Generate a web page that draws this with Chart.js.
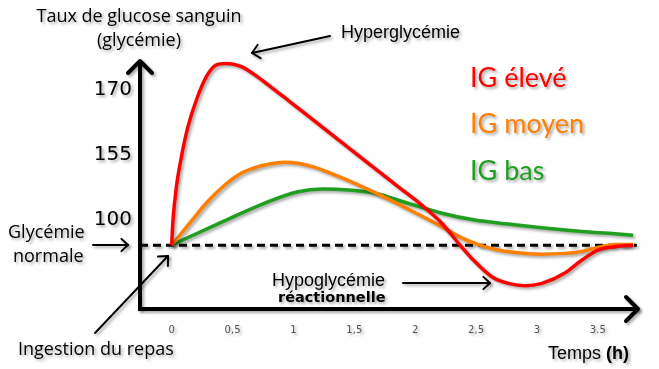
<!DOCTYPE html>
<html>
<head>
<meta charset="utf-8">
<script src="https://cdn.jsdelivr.net/npm/chart.js@4"></script>
<style>
  html, body { margin: 0; padding: 0; background: #fff; }
  #wrap { width: 659px; height: 369px; position: relative; }
</style>
</head>
<body>
<div id="wrap"><canvas id="glyChart"></canvas></div>
<script>
// time in hours, level on the schematic glycemia axis
const redTime = [0, 0.011, 0.039, 0.08, 0.134, 0.203, 0.285, 0.368, 0.45, 0.573, 0.683, 0.792, 0.902, 1.039, 1.313, 1.587, 1.859, 2.053, 2.218, 2.355, 2.49, 2.629, 2.766, 2.903, 3.04, 3.23, 3.37, 3.5, 3.64, 3.79];
const redLevel = [90, 102.8, 119.8, 135.1, 150.5, 164.1, 176, 182, 182.7, 181.1, 176.9, 171.8, 166.6, 159.9, 146.5, 133.1, 119.9, 110.5, 101.2, 91, 81.6, 73.9, 70.5, 69.3, 70.5, 75.8, 82.4, 87.5, 89.2, 90];

const orangeTime = [0, 0.148, 0.285, 0.42, 0.56, 0.66, 0.765, 0.93, 1.036, 1.17, 1.313, 1.5, 1.67, 1.94, 2.22, 2.355, 2.52, 2.66, 2.82, 3.04, 3.23, 3.37, 3.5, 3.64, 3.79];
const orangeLevel = [90, 101.2, 111.5, 119.8, 126.3, 129, 130.9, 132.3, 131.8, 129.8, 126.5, 121.7, 116.8, 108.5, 99.4, 94.5, 90.3, 87.8, 86.2, 85.4, 85.8, 86.8, 88.8, 90.3, 90.3];

const greenTime = [0, 0.148, 0.42, 0.765, 1.036, 1.24, 1.45, 1.67, 1.94, 2.22, 2.49, 2.765, 3.04, 3.37, 3.64, 3.79];
const greenLevel = [90, 94.3, 102, 111.5, 117.3, 118.7, 118.2, 116.5, 111.4, 106.3, 102.8, 100.8, 98.9, 97, 95.8, 95];

const normalTime = [-0.26, 3.82];
const normalLevel = [90, 90];

const xTickValues = [0, 0.5, 1, 1.5, 2, 2.5, 3, 3.5];
const xTickLabels = ['0', '0,5', '1', '1,5', '2', '2,5', '3', '3.5'];
const yTickValues = [102.8, 136, 169.2];
const yTickLabels = ['100', '155', '170'];

const seriesNames = ['IG élevé', 'IG moyen', 'IG bas'];
const seriesColors = ['#ff0000', '#ff7f00', '#1f9e1f'];

function toPoints(xs, ys) {
    return xs.map((x, i) => ({ x: x, y: ys[i] }));
}

function arrow(ctx, x1, y1, x2, y2, head, width) {
    const a = Math.atan2(y2 - y1, x2 - x1);
    ctx.lineWidth = width;
    ctx.lineCap = 'round';
    ctx.lineJoin = 'round';
    ctx.beginPath();
    ctx.moveTo(x1, y1);
    ctx.lineTo(x2, y2);
    ctx.stroke();
    ctx.beginPath();
    ctx.moveTo(x2 - head * Math.cos(a - 0.75), y2 - head * Math.sin(a - 0.75));
    ctx.lineTo(x2, y2);
    ctx.lineTo(x2 - head * Math.cos(a + 0.75), y2 - head * Math.sin(a + 0.75));
    ctx.stroke();
}

function setShadow(ctx) {
    ctx.shadowColor = 'rgba(0,0,0,0.35)';
    ctx.shadowBlur = 3;
    ctx.shadowOffsetX = 2;
    ctx.shadowOffsetY = 2;
}

const shadowPlugin = {
    id: 'shadow',
    beforeDraw(chart) {
        chart.ctx.save();
        setShadow(chart.ctx);
    },
    afterDraw(chart) {
        chart.ctx.restore();
    }
};

const notesPlugin = {
    id: 'notes',
    afterDraw(chart) {
        const ctx = chart.ctx;
        const area = chart.chartArea;
        ctx.save();
        setShadow(ctx);
        ctx.strokeStyle = '#000';
        ctx.fillStyle = '#000';

        // axis arrow heads
        ctx.lineWidth = 4;
        ctx.lineCap = 'round';
        ctx.lineJoin = 'round';
        ctx.beginPath();
        ctx.moveTo(area.left - 12, area.top + 11);
        ctx.lineTo(area.left, area.top - 1);
        ctx.lineTo(area.left + 12, area.top + 11);
        ctx.stroke();
        ctx.beginPath();
        ctx.moveTo(area.right - 12, area.bottom - 12);
        ctx.lineTo(area.right, area.bottom);
        ctx.lineTo(area.right - 12, area.bottom + 12);
        ctx.stroke();

        // annotation arrows
        arrow(ctx, 330, 36, 252, 53, 10, 2);
        arrow(ctx, 93, 245, 128, 245, 9, 2);
        arrow(ctx, 95, 333, 168, 256, 10, 2);
        arrow(ctx, 403, 283, 490, 283, 9, 2);

        ctx.textBaseline = 'middle';
        ctx.textAlign = 'center';
        ctx.font = '18px "Open Sans"';
        ctx.fillText('Taux de glucose sanguin', 139, 17);
        ctx.fillText('(glycémie)', 139, 41);

        ctx.textAlign = 'left';
        ctx.fillText('Glycémie', 8, 233);
        ctx.fillText('normale', 13, 257);
        ctx.fillText('Ingestion du repas', 18, 350);

        ctx.font = '18px "Liberation Sans"';
        ctx.fillText('Hyperglycémie', 341, 33);
        ctx.fillText('Hypoglycémie', 272, 281);
        ctx.font = 'bold 14.5px "DejaVu Sans"';
        ctx.fillText('réactionnelle', 278, 298);

        ctx.font = '18px "Liberation Sans"';
        ctx.fillText('Temps', 548, 354);
        const w = ctx.measureText('Temps ').width;
        ctx.font = 'bold 18px "Liberation Sans"';
        ctx.fillText('(h)', 548 + w, 354);

        ctx.font = '27px Lato';
        const legendY = [78, 124, 171];
        seriesNames.forEach((name, i) => {
            ctx.fillStyle = seriesColors[i];
            ctx.fillText(name, 470, legendY[i]);
        });
        ctx.restore();
    }
};

function curve(label, xs, ys, color, order) {
    return {
        label: label,
        data: toPoints(xs, ys),
        borderColor: color,
        borderWidth: 3.5,
        showLine: true,
        pointRadius: 0,
        cubicInterpolationMode: 'monotone',
        clip: false,
        order: order
    };
}

const ctx = document.getElementById('glyChart').getContext('2d');
new Chart(ctx, {
    type: 'scatter',
    data: {
        datasets: [
            curve(seriesNames[0], redTime, redLevel, seriesColors[0], 1),
            curve(seriesNames[1], orangeTime, orangeLevel, seriesColors[1], 2),
            curve(seriesNames[2], greenTime, greenLevel, seriesColors[2], 3),
            {
                label: 'Glycémie normale',
                data: toPoints(normalTime, normalLevel),
                borderColor: '#000',
                borderWidth: 3,
                borderDash: [8, 5],
                showLine: true,
                pointRadius: 0,
                clip: false,
                order: 10
            }
        ]
    },
    options: {
        responsive: true,
        maintainAspectRatio: false,
        animation: false,
        events: [],
        layout: { padding: { top: 62, right: 21, left: 0, bottom: 0 } },
        scales: {
            x: {
                type: 'linear',
                min: -0.26,
                max: 3.83,
                afterBuildTicks: s => { s.ticks = xTickValues.map(v => ({ value: v })); },
                afterFit: s => { s.height = 60; },
                grid: { display: false, drawTicks: false },
                border: { display: true, color: '#000', width: 4 },
                ticks: {
                    padding: 15,
                    color: '#555',
                    font: { family: '"DejaVu Sans"', size: 10 },
                    callback: (v, i) => xTickLabels[i]
                }
            },
            y: {
                type: 'linear',
                min: 57.4,
                max: 183.5,
                afterBuildTicks: s => { s.ticks = yTickValues.map(v => ({ value: v })); },
                afterFit: s => { s.width = 140; },
                grid: { display: false, drawTicks: false },
                border: { display: true, color: '#000', width: 4 },
                ticks: {
                    padding: 8,
                    color: '#000',
                    font: { family: '"DejaVu Sans"', size: 20 },
                    callback: (v, i) => yTickLabels[i]
                }
            }
        },
        plugins: {
            legend: { display: false },
            title: { display: false },
            tooltip: { enabled: false }
        }
    },
    plugins: [shadowPlugin, notesPlugin]
});
</script>
</body>
</html>
